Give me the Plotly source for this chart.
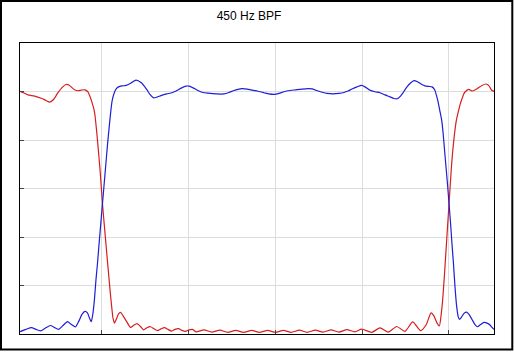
import plotly.graph_objects as go

# Frequency axis (arbitrary Hz-like units), amplitude axis linear (0..1.2)
grid_freqs = [100, 200, 300, 400, 500]
grid_amps = [0.2, 0.4, 0.6, 0.8, 1.0]

red_freq = [5.9, 10.5, 15.1, 22.8, 30.4, 35.8, 40.1, 44.5, 49.7, 54.3,
            58.9, 62.3, 65.8, 69.2, 72.7, 76.7, 80.8, 84.2, 86.5, 88.8,
            91.1, 92.3, 94.0, 95.7, 98.0, 100.9, 103.8, 106.7, 109.6, 111.5,
            113.0, 114.7, 117.0, 119.4, 121.7, 124.5, 128.6, 133.2, 136.6, 140.7,
            144.7, 148.2, 152.2, 156.2, 160.2, 164.3, 168.3, 172.3, 176.4, 180.4,
            184.4, 188.5, 192.5, 196.5, 200.6, 204.6, 208.6, 217.8, 226.9, 236.1,
            245.2, 254.4, 263.5, 272.7, 281.8, 291.0, 300.1, 309.3, 318.4, 327.6,
            336.7, 345.9, 355.0, 364.2, 373.3, 382.5, 391.8, 399.5, 411.0, 420.6,
            430.2, 439.8, 449.4, 458.3, 467.3, 473.6, 479.4, 482.8, 486.3, 488.9,
            491.4, 493.2, 494.9, 496.6, 498.4, 500.1, 501.8, 503.5, 505.3, 507.0,
            508.7, 510.8, 512.8, 514.7, 516.8, 518.5, 522.6, 527.2, 532.3, 538.1,
            542.7, 546.2, 549.0, 551.9]
red_amp = [1.001, 0.994, 0.986, 0.981, 0.972, 0.963, 0.956, 0.967, 0.995, 1.016,
           1.029, 1.027, 1.016, 1.006, 1.003, 1.006, 1.007, 0.998, 0.979, 0.955,
           0.926, 0.901, 0.843, 0.777, 0.682, 0.537, 0.417, 0.298, 0.182, 0.113,
           0.066, 0.045, 0.062, 0.083, 0.089, 0.076, 0.052, 0.027, 0.035, 0.043,
           0.031, 0.017, 0.026, 0.030, 0.022, 0.014, 0.021, 0.026, 0.019, 0.012,
           0.019, 0.022, 0.015, 0.011, 0.017, 0.019, 0.009, 0.017, 0.008, 0.016,
           0.007, 0.015, 0.007, 0.015, 0.007, 0.015, 0.007, 0.015, 0.007, 0.016,
           0.007, 0.016, 0.008, 0.017, 0.008, 0.018, 0.009, 0.020, 0.007, 0.025,
           0.008, 0.031, 0.011, 0.050, 0.014, 0.037, 0.087, 0.074, 0.045, 0.033,
           0.091, 0.161, 0.248, 0.343, 0.442, 0.537, 0.632, 0.719, 0.789, 0.843,
           0.884, 0.917, 0.946, 0.967, 0.988, 0.998, 1.009, 1.002, 1.011, 1.025,
           1.031, 1.023, 1.006, 1.000]

blue_freq = [5.9, 12.8, 19.1, 24.3, 29.5, 35.3, 41.0, 45.6, 50.2, 55.4,
             60.6, 65.2, 69.8, 73.8, 77.3, 80.8, 83.6, 85.9, 88.0, 90.0,
             91.7, 93.4, 95.2, 98.0, 100.9, 103.8, 106.7, 109.6, 111.9, 114.2,
             116.5, 119.4, 123.4, 128.0, 133.8, 139.5, 145.3, 151.6, 155.6, 159.7,
             163.7, 168.3, 174.9, 181.0, 185.6, 192.2, 197.1, 200.9, 205.2, 209.8,
             215.5, 222.5, 232.5, 240.9, 246.6, 251.6, 257.0, 261.6, 267.4, 273.1,
             280.1, 287.0, 292.7, 298.5, 304.3, 310.0, 316.9, 323.8, 330.7, 337.7,
             342.3, 347.7, 353.8, 359.5, 366.8, 373.4, 379.1, 383.7, 388.3, 394.1,
             399.5, 403.3, 409.1, 414.8, 420.6, 426.4, 432.1, 436.7, 440.5, 444.2,
             447.7, 451.7, 455.7, 459.8, 463.8, 467.8, 472.4, 477.0, 480.5, 483.4,
             485.7, 487.8, 489.7, 491.7, 493.2, 494.9, 496.6, 498.4, 500.1, 501.8,
             503.5, 505.3, 507.0, 508.7, 510.5, 512.2, 514.5, 517.4, 520.2, 523.1,
             526.6, 530.0, 532.9, 536.4, 540.4, 543.9, 547.3, 549.6, 551.9]
blue_amp = [0.010, 0.019, 0.026, 0.019, 0.013, 0.025, 0.035, 0.027, 0.019, 0.035,
            0.051, 0.039, 0.029, 0.054, 0.081, 0.093, 0.087, 0.066, 0.051, 0.087,
            0.145, 0.223, 0.293, 0.415, 0.537, 0.659, 0.781, 0.888, 0.959, 0.992,
            1.010, 1.019, 1.023, 1.025, 1.035, 1.047, 1.037, 1.010, 0.988, 0.974,
            0.977, 0.983, 0.990, 0.995, 1.002, 1.015, 1.022, 1.022, 1.015, 1.006,
            0.997, 0.993, 0.990, 0.990, 0.996, 1.003, 1.009, 1.012, 1.010, 1.006,
            1.001, 0.995, 0.990, 0.988, 0.992, 0.999, 1.004, 1.007, 1.010, 1.012,
            1.011, 1.004, 0.997, 0.992, 0.990, 0.992, 0.996, 1.002, 1.010, 1.019,
            1.025, 1.019, 1.005, 0.999, 0.995, 0.986, 0.978, 0.971, 0.970, 0.981,
            0.998, 1.019, 1.035, 1.045, 1.040, 1.031, 1.023, 1.021, 1.019, 1.008,
            0.983, 0.952, 0.917, 0.880, 0.831, 0.760, 0.690, 0.616, 0.537, 0.459,
            0.372, 0.285, 0.194, 0.120, 0.074, 0.060, 0.070, 0.085, 0.090, 0.081,
            0.060, 0.039, 0.030, 0.039, 0.048, 0.045, 0.037, 0.027, 0.019]

title_text = "450 Hz BPF"

fig = go.Figure()
fig.add_trace(go.Scatter(x=red_freq, y=red_amp, mode="lines",
                         line=dict(color="rgb(215,30,30)", width=1.2, shape="spline", smoothing=0.6),
                         hoverinfo="skip", showlegend=False))
fig.add_trace(go.Scatter(x=blue_freq, y=blue_amp, mode="lines",
                         line=dict(color="rgb(30,30,215)", width=1.2, shape="spline", smoothing=0.6),
                         hoverinfo="skip", showlegend=False))

axis_common = dict(showline=True, linecolor="black", linewidth=1, mirror=True,
                   showgrid=True, gridcolor="#dcdcdc", gridwidth=1,
                   ticks="inside", ticklen=4, tickcolor="#444", tickwidth=1,
                   showticklabels=False, zeroline=False)

fig.update_xaxes(range=[5.9, 551.9], tickvals=grid_freqs, **axis_common)
fig.update_yaxes(range=[0, 1.2], tickvals=grid_amps, **axis_common)

fig.update_layout(
    width=514, height=352,
    margin=dict(l=20, r=20, t=43, b=18),
    paper_bgcolor="white", plot_bgcolor="white",
    title=dict(text=title_text, x=0.4844, xanchor="center", y=0.955, yanchor="middle",
               font=dict(family="Liberation Sans, Arial", size=12, color="black")),
    shapes=[dict(type="rect", xref="paper", yref="paper",
                 x0=-0.0401, x1=1.0386, y0=-0.0533, y1=1.1443,
                 line=dict(color="black", width=2), fillcolor="rgba(0,0,0,0)", layer="above")],
)

fig.write_html("out.html")
